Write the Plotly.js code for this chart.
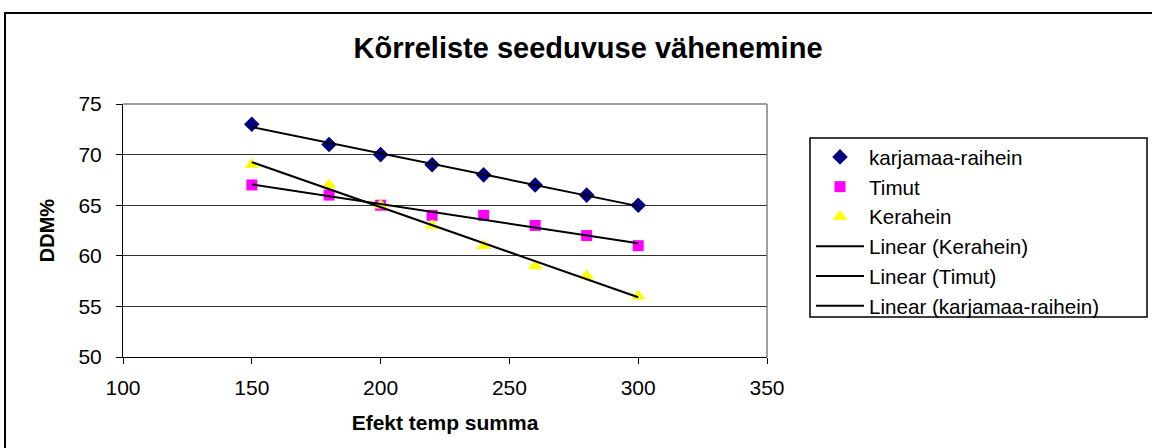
<!DOCTYPE html>
<html>
<head>
<meta charset="utf-8">
<script src="https://cdn.plot.ly/plotly-3.0.1.min.js"></script>
<style>
html,body{margin:0;padding:0;background:#fff;}
#wrap{position:relative;width:1152px;height:448px;overflow:hidden;}
#chart{position:absolute;left:0;top:0;width:1152px;height:448px;}
#frame{position:absolute;left:4px;top:12px;width:1160px;height:450px;border:2px solid #000;box-sizing:border-box;pointer-events:none;}
</style>
</head>
<body>
<div id="wrap"><div id="chart"></div><div id="frame"></div></div>
<script>
const xValues = [150, 180, 200, 220, 240, 260, 280, 300];
const karjamaa = [73, 71, 70, 69, 68, 67, 66, 65];
const timut = [67, 66, 65, 64, 64, 63, 62, 61];
const kerahein = [69, 67, 65, 63, 61, 59, 58, 56];
const seriesNames = ['karjamaa-raihein', 'Timut', 'Kerahein'];
const xTicks = [100, 150, 200, 250, 300, 350];
const yTicks = [50, 55, 60, 65, 70, 75];

function linFit(xs, ys) {
  const n = xs.length;
  const mx = xs.reduce((a, b) => a + b, 0) / n;
  const my = ys.reduce((a, b) => a + b, 0) / n;
  let sxy = 0, sxx = 0;
  for (let i = 0; i < n; i++) { sxy += (xs[i] - mx) * (ys[i] - my); sxx += (xs[i] - mx) ** 2; }
  const b = sxy / sxx, a = my - b * mx;
  const x0 = Math.min(...xs), x1 = Math.max(...xs);
  return { x: [x0, x1], y: [a + b * x0, a + b * x1] };
}

const font = 'Liberation Sans, Arial, sans-serif';
const fk = linFit(xValues, kerahein), ft = linFit(xValues, timut), fj = linFit(xValues, karjamaa);

const traces = [
  { x: xValues, y: karjamaa, name: seriesNames[0], mode: 'markers', type: 'scatter',
    marker: { symbol: 'diamond', color: '#000080', size: 12 } },
  { x: xValues, y: timut, name: seriesNames[1], mode: 'markers', type: 'scatter',
    marker: { symbol: 'square', color: '#FF00FF', size: 11 } },
  { x: xValues, y: kerahein, name: seriesNames[2], mode: 'markers', type: 'scatter',
    marker: { symbol: 'triangle-up', color: '#FFFF00', size: 13 } },
  { x: fk.x, y: fk.y, name: 'Linear (' + seriesNames[2] + ')', mode: 'lines', type: 'scatter',
    line: { color: '#000', width: 2 } },
  { x: ft.x, y: ft.y, name: 'Linear (' + seriesNames[1] + ')', mode: 'lines', type: 'scatter',
    line: { color: '#000', width: 2 } },
  { x: fj.x, y: fj.y, name: 'Linear (' + seriesNames[0] + ')', mode: 'lines', type: 'scatter',
    line: { color: '#000', width: 2 } }
];

const L = 123, R = 767, T = 104, B = 357;
const pw = R - L, ph = B - T;
const px = v => (v - L) / pw, py = v => (B - v) / ph;

const layout = {
  width: 1152, height: 448,
  margin: { l: L, r: 1152 - R, t: T, b: 448 - B },
  paper_bgcolor: '#fff', plot_bgcolor: '#fff',
  font: { family: font, size: 21, color: '#000' },
  title: { text: '<b>Kõrreliste seeduvuse vähenemine</b>', font: { family: font, size: 29, color: '#000' },
           xref: 'container', x: 588 / 1152, xanchor: 'center', yref: 'container', y: 1 - 48 / 448, yanchor: 'middle' },
  xaxis: {
    range: [100, 350], tickvals: xTicks, ticktext: xTicks.map(String),
    showgrid: false, zeroline: false,
    showline: true, linecolor: '#000', linewidth: 1,
    ticks: 'outside', ticklen: 6, tickcolor: '#000', tickfont: { size: 21 },
    ticklabelstandoff: 6,
    title: { text: '<b>Efekt temp summa</b>', font: { size: 21 }, standoff: 17 }
  },
  yaxis: {
    range: [50, 75], tickvals: yTicks, ticktext: yTicks.map(String),
    showgrid: true, gridcolor: '#303030', gridwidth: 1, zeroline: false,
    showline: true, linecolor: '#000', linewidth: 1,
    ticks: 'outside', ticklen: 6, tickcolor: '#000', tickfont: { size: 21 },
    ticklabelstandoff: 10,
    title: { text: '<b>DDM%</b>', font: { size: 20 }, standoff: 18 }
  },
  shapes: [
    { type: 'line', xref: 'paper', yref: 'paper', x0: 0, x1: 1, y0: 1, y1: 1, line: { color: '#808080', width: 1.5 } },
    { type: 'line', xref: 'paper', yref: 'paper', x0: 1, x1: 1, y0: 0, y1: 1, line: { color: '#808080', width: 1.5 } },
    { type: 'rect', xref: 'paper', yref: 'paper', x0: px(810), x1: px(1147), y0: py(138), y1: py(317),
      line: { color: '#000', width: 1.5 }, fillcolor: 'rgba(0,0,0,0)' }
  ],
  showlegend: true,
  legend: {
    x: px(811), xanchor: 'left', y: py(137), yanchor: 'top',
    borderwidth: 0, bgcolor: 'rgba(0,0,0,0)',
    font: { size: 20.6, family: font }, traceorder: 'normal',
    itemwidth: 48
  }
};

Plotly.newPlot('chart', traces, layout, { displayModeBar: false, staticPlot: true });
</script>
</body>
</html>
